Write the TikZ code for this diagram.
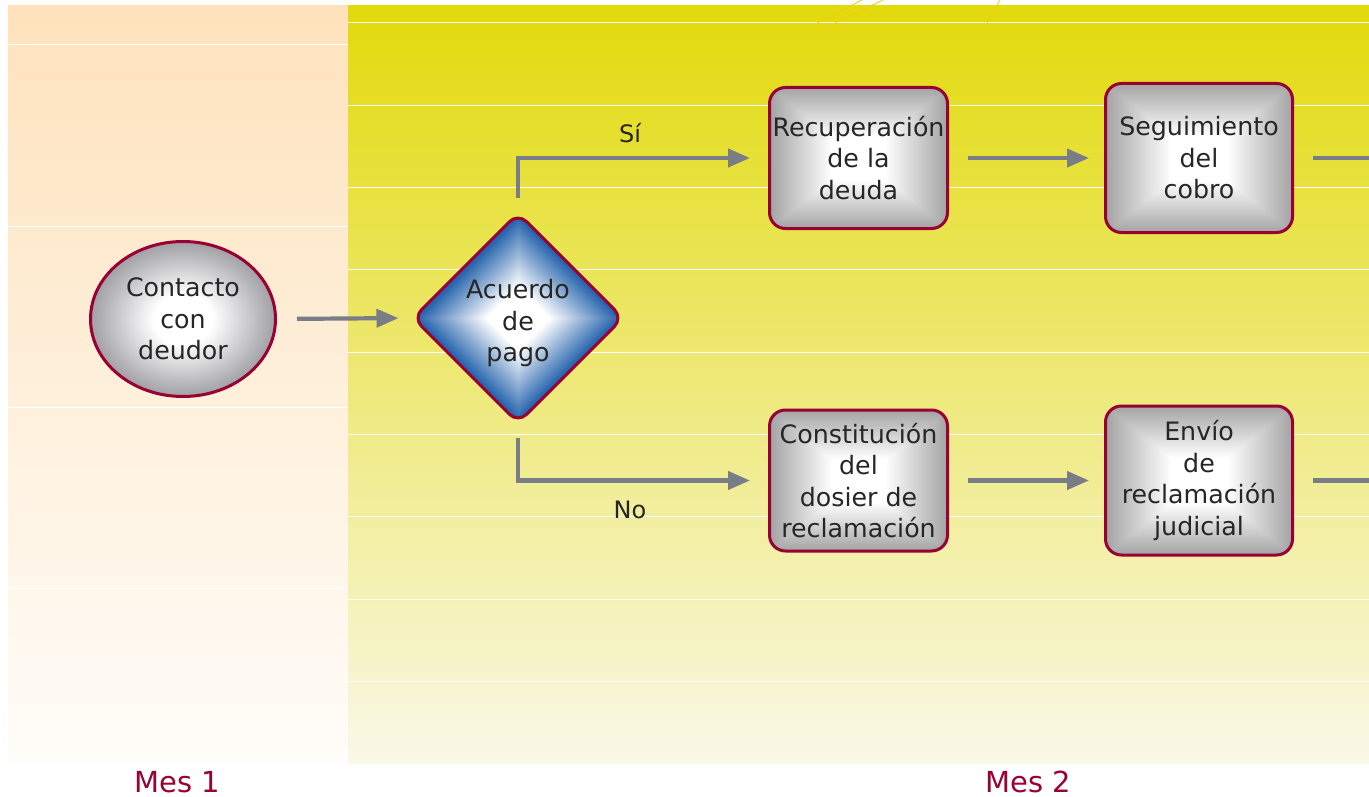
\documentclass[tikz,border=0pt]{standalone}
\usepackage{fontspec}
\setmainfont{DejaVu Sans}
\usetikzlibrary{shapes.geometric,arrows.meta}

\definecolor{crimson}{RGB}{153,0,51}
\definecolor{flowgray}{RGB}{121,126,134}
\definecolor{inkgray}{RGB}{38,38,38}
\definecolor{peachtop}{RGB}{254,226,188}
\definecolor{peachbot}{RGB}{255,253,249}
\definecolor{yellowtop}{RGB}{226,218,10}
\definecolor{yellowbot}{RGB}{250,248,232}
\definecolor{ballgray}{RGB}{160,160,165}
\definecolor{sparkyellow}{RGB}{245,200,30}

% gray ball, gray box and blue gem fills
\pgfdeclareradialshading{ballshade}{\pgfpoint{0bp}{0bp}}{color(0bp)=(white); color(8bp)=(white); color(25bp)=(ballgray); color(50bp)=(ballgray)}
\pgfdeclarefunctionalshading{boxshade}{\pgfpoint{-50bp}{-50bp}}{\pgfpoint{50bp}{50bp}}{}{
  abs exch abs 2 copy lt {exch} if pop
  25 div 0.3 sub 0.7 div
  dup 0 lt {pop 0} if dup 1 gt {pop 1} if
  0.36 mul 1 exch sub dup dup
}
\pgfdeclarefunctionalshading{gemshade}{\pgfpoint{-50bp}{-50bp}}{\pgfpoint{50bp}{50bp}}{}{
  abs exch abs add 25 div 0.3 sub 0.7 div
  dup 0 lt {pop 0} if dup 1 gt {pop 1} if
  dup 0.886 mul 1 exch sub exch
  dup 0.635 mul 1 exch sub exch
  0.34 mul 1 exch sub
}

\tikzset{
  basenode/.style={font=\fontsize{25.3}{31.5}\selectfont, text=inkgray, align=center, draw=crimson, line width=3pt, inner sep=0pt},
  blob/.style={basenode, ellipse, minimum width=185pt, minimum height=155pt, shading=ballshade},
  gem/.style={basenode, diamond, aspect=1, minimum size=211pt, rounded corners=12pt, shading=gemshade},
  taskbox/.style={basenode, rectangle, rounded corners=16pt, minimum width=178pt, minimum height=141pt, shading=boxshade},
  widebox/.style={taskbox, minimum width=187pt, minimum height=149pt},
  flow/.style={draw=flowgray, line width=4.2pt, -{Triangle[length=22pt,width=18pt]}, shorten <=19pt, shorten >=16pt},
  lbl/.style={font=\fontsize{24}{31.5}\selectfont, text=inkgray},
  month/.style={font=\fontsize{29}{34}\selectfont, text=crimson}
}

\begin{document}
\begin{tikzpicture}[x=1pt,y=-1pt]
		%%%%% START %%%%%
		\useasboundingbox (0,0) rectangle (1369,797);
		\fill[white] (0,0) rectangle (1369,797);
		
		% month panels
		\shade[top color=peachtop, bottom color=peachbot] (8,6) rectangle (348,760);
		\shade[top color=yellowtop, bottom color=yellowbot] (348,6) rectangle (1369,763);
		\foreach \k in {0,...,3}
			\draw[white, line width=1pt] (8,{45+181*\k}) -- (348,{45+181*\k});
		\foreach \k in {0,...,8}
			\draw[white, line width=1pt] (348,{23+82.3*\k}) -- (1369,{23+82.3*\k});
		\draw[sparkyellow, line width=0.8pt] (817,23) -- (862,0) (835,23) -- (883,0) (987,23) -- (1000,0);
		
		% steps
		\node[blob] (contact) at (183,319) {Contacto\\con\\deudor};
		\node[gem] (deal) at (518,318) {\rule{0pt}{30pt}Acuerdo\\de\\pago};
		\node[taskbox] (recover) at (858.5,158) {Recuperación\\de la\\deuda};
		\node[widebox] (track) at (1199,158) {Seguimiento\\del\\cobro};
		\node[taskbox] (dossier) at (858.5,480.5) {Constitución\\del\\dosier de\\reclamación};
		\node[widebox] (lawsuit) at (1199,480.5) {Envío\\de\\reclamación\\judicial};
		\coordinate (outtop) at (1372,158);
		\coordinate (outbot) at (1372,480.5);
		
		% arrows
		\draw[flow, shorten <=20pt, shorten >=12.5pt] (contact.east) -- (deal.west);
		\draw[flow, shorten <=13pt, shorten >=18pt] (deal.north) |- (recover.west);
		\draw[flow, shorten <=13pt, shorten >=18pt] (deal.south) |- (dossier.west);
		\draw[flow, shorten >=15pt] (recover.east) -- (track.west);
		\draw[flow, shorten >=15pt] (dossier.east) -- (lawsuit.west);
		\draw[flow, -, shorten >=0pt] (track.east) -- (outtop);
		\draw[flow, -, shorten >=0pt] (lawsuit.east) -- (outbot);
		
		\node[lbl] (yes) at (630,133) {Sí};
		\node[lbl] (no) at (630,510) {No};
		\node[month] (mes1) at (177,782) {Mes 1};
		\node[month] (mes2) at (1028,782) {Mes 2};
		%%%%% END %%%%%
	\end{tikzpicture}
\end{document}
